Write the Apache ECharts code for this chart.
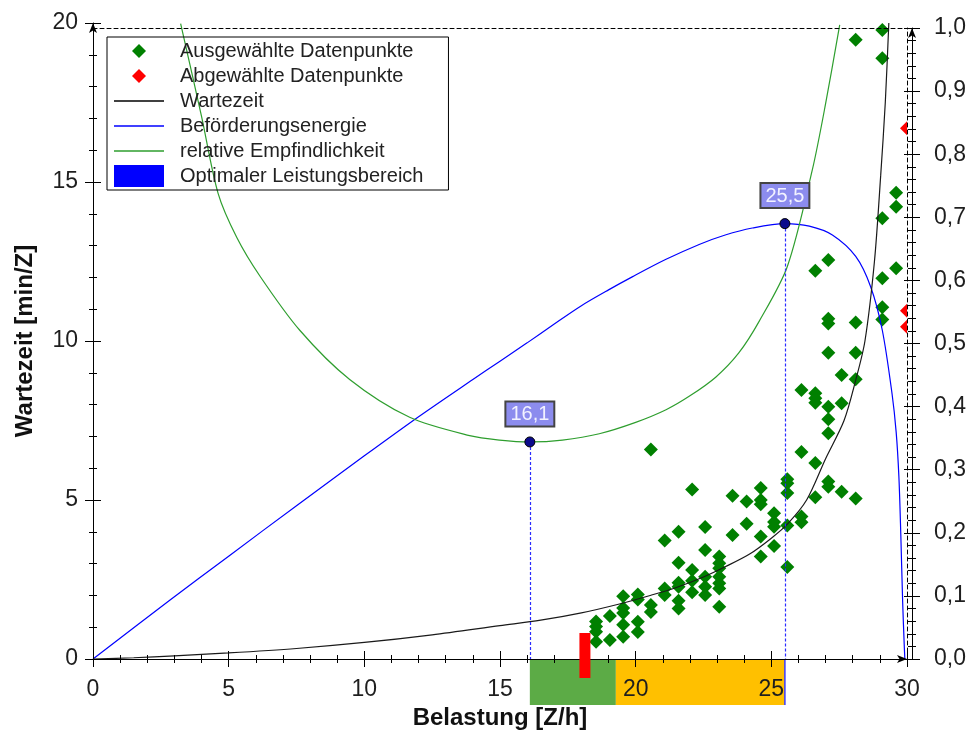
<!DOCTYPE html>
<html><head><meta charset="utf-8">
<script src="https://cdn.jsdelivr.net/npm/echarts@6/dist/echarts.min.js"></script>
<style>html,body{margin:0;padding:0;background:#fff}#c{width:970px;height:736px}</style>
</head><body><div id="c"></div>
<script>
const FONT = 'Liberation Sans, Arial, sans-serif';

// ---------- data ----------
// Ausgewählte Datenpunkte [Belastung, Wartezeit]
const selectedPoints = [
 [18.54,1.18],[18.54,1.02],[18.54,0.86],[18.54,0.54],
 [19.05,1.35],[19.05,0.60],
 [19.54,1.97],[19.54,1.60],[19.54,1.45],[19.54,1.08],[19.54,0.70],
 [20.08,2.03],[20.08,1.87],[20.08,1.17],[20.08,0.85],
 [20.56,1.70],[20.56,1.48],[20.56,6.59],
 [21.07,3.73],[21.07,2.22],[21.07,2.01],
 [21.58,4.00],[21.58,3.03],[21.58,2.40],[21.58,2.27],[21.58,1.83],[21.58,1.59],
 [22.08,5.33],[22.08,2.80],[22.08,2.46],[22.08,2.10],
 [22.56,4.15],[22.56,3.43],[22.56,2.59],[22.56,2.27],[22.56,2.01],
 [23.08,3.22],[23.08,3.01],[23.08,2.85],[23.08,2.59],[23.08,2.38],[23.08,2.22],[23.08,1.64],
 [23.57,5.13],[23.57,3.90],
 [24.09,4.95],[24.09,4.25],
 [24.61,5.38],[24.61,5.00],[24.61,4.87],[24.61,3.85],[24.61,3.22],
 [25.10,4.58],[25.10,4.31],[25.10,4.16],[25.10,3.55],
 [25.59,5.65],[25.59,5.53],[25.59,5.22],[25.59,4.20],[25.59,2.89],
 [26.11,8.46],[26.11,6.51],[26.11,4.48],[26.11,4.30],
 [26.62,12.21],[26.62,8.36],[26.62,8.20],[26.62,8.06],[26.62,6.16],[26.62,5.09],
 [27.10,12.55],[27.10,10.70],[27.10,10.55],[27.10,9.63],[27.10,7.93],[27.10,7.54],[27.10,7.10],[27.10,5.58],[27.10,5.42],
 [27.59,8.93],[27.59,8.04],[27.59,5.26],
 [28.11,19.47],[28.11,10.58],[28.11,9.63],[28.11,8.80],[28.11,5.05],
 [29.09,19.78],[29.09,18.89],[29.09,13.86],[29.09,11.97],[29.09,11.06],[29.09,10.68],
 [29.60,14.66],[29.60,14.22],[29.60,12.29]
];
// Abgewählte Datenpunkte
const deselectedX = [30, 30, 30];
const deselectedY = [16.69, 10.95, 10.45];

// Wartezeit (linke Achse)
const waitX = [0,1.5,3,5,7.5,10,12.5,15,16.5,18,19.4,20.5,21.5,22.5,23.3,24.2,25,25.6,26.3,27.0,27.68,28.11,28.45,28.8,29.03,29.2,29.33];
const waitY = [0,0.04,0.1,0.19,0.33,0.52,0.76,1.05,1.22,1.45,1.73,1.99,2.25,2.58,2.9,3.3,3.8,4.25,5.0,6.3,7.5,8.77,10.0,12.5,15.2,17.5,20.0];

// Beförderungsenergie (rechte Achse)
const energyX = [0,2.84,5,7.5,10,12,14,15,16,17,18,19,19.89,21.1,22.34,23.3,24.3,25.5,26.4,27.25,28.11,28.66,29.09,29.45,29.6,29.7,29.77,29.84,29.9,29.92];
const energyY = [0,0.0935,0.163,0.243,0.322,0.384,0.443,0.472,0.501,0.531,0.560,0.585,0.606,0.633,0.657,0.672,0.683,0.690,0.686,0.672,0.638,0.590,0.521,0.42,0.36,0.29,0.20,0.09,0.02,0];

// relative Empfindlichkeit (rechte Achse)
const sensX = [3.23,4.0,4.61,5.3,6.15,7.62,9.46,11.67,13.88,14.98,16.1,17.3,18.66,20.0,21.12,22.0,22.96,23.8,24.55,25.59,26.51,27.0,27.52];
const sensY = [1.007,0.86,0.738,0.668,0.607,0.521,0.443,0.383,0.354,0.347,0.344,0.347,0.357,0.375,0.395,0.417,0.447,0.485,0.535,0.622,0.775,0.88,1.005];

// Optima
const optimaX = [16.1, 25.5];
const optimaY = [0.344, 0.690];

// Leistungsbereiche unter der Achse
const zoneStart = [16.1, 19.27];
const zoneEnd = [19.27, 25.5];
// aktueller Betriebspunkt
const currentLoad = [18.13];

// Achsen
const xMin = 0, xMax = 30, xStep = 5;
const yMin = 0, yMax = 20, yStep = 5;
const rMin = 0, rMax = 1, rStep = 0.1;

// ---------- styles ----------
const ZONE_FILL = ['#5cab46', '#ffc000'];
const ZONE_EDGE = [null, '#3a3aff'];
const ZONE_H = 46;
const LABEL_COLOR = '#1e1e1e';
const TICK_FS = 23;

const DIAMOND_ICON = 'path://M0,0M22,22M4,11L11,4L18,11L11,18Z';
const LINE_ICON = 'path://M0,0M50,22M0,10.25H50V11.75H0Z';
const HALF_DIAMOND = 'path://M0,7L7,0L7,14Z';

const chart = echarts.init(document.getElementById('c'), null, {renderer: 'canvas'});

function tickAxis(base, inside) {
  return Object.assign({}, base, {
    axisLine: {show: false, onZero: false},
    axisLabel: {show: false},
    splitLine: {show: false},
    axisTick: {show: true, inside: inside, length: 8, lineStyle: {color: '#000', width: 1}},
    minorTick: {show: true, splitNumber: 5, length: 4, lineStyle: {color: '#000', width: 1}},
    name: ''
  });
}

const xBase = {type: 'value', min: xMin, max: xMax, interval: xStep, gridIndex: 0, position: 'bottom', z: 5};
const yBase = {type: 'value', min: yMin, max: yMax, interval: yStep, gridIndex: 0, position: 'left', z: 5};
const rBase = {type: 'value', min: rMin, max: rMax, interval: rStep, gridIndex: 1, position: 'right', offset: 5, z: 5};

const option = {
  animation: false,
  backgroundColor: '#fff',
  textStyle: {fontFamily: FONT},
  grid: [
    {left: 93, right: 63, top: 23, bottom: 77},
    {left: 93, right: 63, top: 28, bottom: 77}
  ],
  legend: {
    orient: 'vertical', left: 107, top: 37,
    padding: [3, 25, 3, 7],
    itemWidth: 50, itemHeight: 22, itemGap: 3,
    backgroundColor: 'transparent', borderColor: '#000', borderWidth: 1, borderRadius: 0,
    align: 'left',
    selectedMode: false,
    textStyle: {fontSize: 20, color: '#222', fontFamily: FONT, padding: [0, 0, 0, 11]},
    data: [
      {name: 'Ausgewählte Datenpunkte', icon: DIAMOND_ICON, itemStyle: {color: '#008000', borderWidth: 0, opacity: 1}},
      {name: 'Abgewählte Datenpunkte', icon: DIAMOND_ICON, itemStyle: {color: '#ff0000', borderWidth: 0, opacity: 1}},
      {name: 'Wartezeit', icon: LINE_ICON, itemStyle: {color: '#000', borderWidth: 0}},
      {name: 'Beförderungsenergie', icon: LINE_ICON, itemStyle: {color: '#0000ff', borderWidth: 0}},
      {name: 'relative Empfindlichkeit', icon: LINE_ICON, itemStyle: {color: '#2e9e2e', borderWidth: 0}},
      {name: 'Optimaler Leistungsbereich', icon: 'rect', itemStyle: {color: '#0000ff', borderWidth: 0}}
    ]
  },
  xAxis: [
    Object.assign({}, xBase, {
      axisLine: {show: true, onZero: false, lineStyle: {color: '#000', width: 1}, symbol: ['none', 'arrow'], symbolSize: [6, 10]},
      axisTick: {show: true, inside: false, length: 8, lineStyle: {color: '#000'}},
      minorTick: {show: true, splitNumber: 5, length: 4, lineStyle: {color: '#000'}},
      axisLabel: {margin: 19, fontSize: TICK_FS, color: LABEL_COLOR, fontFamily: FONT},
      splitLine: {show: false},
      name: 'Belastung [Z/h]', nameLocation: 'middle', nameGap: 46,
      nameTextStyle: {fontSize: 24, fontWeight: 'bold', color: '#111', fontFamily: FONT}
    }),
    tickAxis(xBase, true),
    {type: 'value', min: xMin, max: xMax, gridIndex: 1, position: 'top', z: 4,
     axisLine: {show: true, onZero: false, lineStyle: {color: '#000', width: 1, type: [4, 3]}},
     axisTick: {show: false}, axisLabel: {show: false}, splitLine: {show: false}}
  ],
  yAxis: [
    Object.assign({}, yBase, {
      axisLine: {show: true, onZero: false, lineStyle: {color: '#000', width: 1}, symbol: ['none', 'arrow'], symbolSize: [6, 10]},
      axisTick: {show: true, inside: false, length: 8, lineStyle: {color: '#000'}},
      minorTick: {show: true, splitNumber: 5, length: 4, lineStyle: {color: '#000'}},
      axisLabel: {margin: 15, fontSize: TICK_FS, color: LABEL_COLOR, fontFamily: FONT},
      splitLine: {show: false},
      name: 'Wartezeit [min/Z]', nameLocation: 'middle', nameGap: 56,
      nameTextStyle: {fontSize: 24, fontWeight: 'bold', color: '#111', fontFamily: FONT}
    }),
    tickAxis(yBase, true),
    {type: 'value', min: rMin, max: rMax, interval: rStep, gridIndex: 1, position: 'right', offset: 0, z: 4,
     axisLine: {show: true, onZero: false, lineStyle: {color: '#000', width: 1, type: [4, 3]}},
     axisTick: {show: false}, axisLabel: {show: false}, splitLine: {show: false}},
    Object.assign({}, rBase, {
      axisLine: {show: true, onZero: false, lineStyle: {color: '#000', width: 1}, symbol: ['none', 'arrow'], symbolSize: [6, 10]},
      axisTick: {show: true, inside: false, length: 8, lineStyle: {color: '#000'}},
      minorTick: {show: true, splitNumber: 5, length: 4, lineStyle: {color: '#000'}},
      axisLabel: {margin: 22, fontSize: TICK_FS, color: LABEL_COLOR, fontFamily: FONT,
        formatter: v => v.toFixed(1).replace('.', ',')},
      splitLine: {show: false}
    }),
    tickAxis(rBase, true)
  ],
  series: [
    {
      type: 'custom', name: 'Optimaler Leistungsbereich', xAxisIndex: 0, yAxisIndex: 0,
      z: 1, clip: false, silent: true, itemStyle: {color: '#0000ff'},
      data: zoneStart.map((s, i) => [s, zoneEnd[i]]),
      renderItem: (params, api) => {
        const i = params.dataIndex;
        const a = api.coord([api.value(0), 0]);
        const b = api.coord([api.value(1), 0]);
        const children = [{type: 'rect', shape: {x: a[0], y: a[1], width: b[0] - a[0], height: ZONE_H},
          style: {fill: ZONE_FILL[i]}}];
        if (ZONE_EDGE[i]) children.push({type: 'line', shape: {x1: b[0], y1: a[1], x2: b[0], y2: a[1] + ZONE_H},
          style: {stroke: ZONE_EDGE[i], lineWidth: 1.5}});
        return {type: 'group', children: children};
      }
    },
    {
      type: 'line', name: 'Beförderungsenergie', xAxisIndex: 2, yAxisIndex: 3,
      data: energyX.map((x, i) => [x, energyY[i]]),
      smooth: 0.3, symbol: 'none', clip: false,
      lineStyle: {color: '#0000ff', width: 1.2}, itemStyle: {color: '#0000ff'},
      markLine: {silent: true, symbol: ['none', 'none'], label: {show: false},
        lineStyle: {color: '#2b2bff', width: 1.2, type: [3, 2], opacity: 1},
        data: [[{coord: [optimaX[1], optimaY[1]]}, {coord: [optimaX[1], 0]}]]}
    },
    {
      type: 'line', name: 'relative Empfindlichkeit', xAxisIndex: 2, yAxisIndex: 3,
      data: sensX.map((x, i) => [x, sensY[i]]),
      smooth: 0.3, symbol: 'none', clip: false,
      lineStyle: {color: '#2e9e2e', width: 1.2}, itemStyle: {color: '#2e9e2e'},
      markLine: {silent: true, symbol: ['none', 'none'], label: {show: false},
        lineStyle: {color: '#2b2bff', width: 1.2, type: [3, 2], opacity: 1},
        data: [[{coord: [optimaX[0], optimaY[0]]}, {coord: [optimaX[0], 0]}]]}
    },
    {
      type: 'line', name: 'Wartezeit', xAxisIndex: 0, yAxisIndex: 0,
      data: waitX.map((x, i) => [x, waitY[i]]),
      smooth: 0.3, symbol: 'none',
      lineStyle: {color: '#1a1a1a', width: 1.2}, itemStyle: {color: '#000'}
    },
    {
      type: 'scatter', name: 'Ausgewählte Datenpunkte', xAxisIndex: 0, yAxisIndex: 0,
      data: selectedPoints, symbol: 'diamond', symbolSize: 14,
      itemStyle: {color: '#008000', opacity: 1}
    },
    {
      type: 'scatter', name: 'Abgewählte Datenpunkte', xAxisIndex: 0, yAxisIndex: 0,
      data: deselectedX.map((x, i) => [x, deselectedY[i]]),
      symbol: HALF_DIAMOND, symbolSize: [7, 14], symbolOffset: [-3.5, 0], clip: false,
      itemStyle: {color: '#ff0000', opacity: 1}
    },
    {
      type: 'scatter', name: 'Optimum', xAxisIndex: 2, yAxisIndex: 3, z: 6,
      data: optimaX.map((x, i) => [x, optimaY[i]]),
      symbol: 'circle', symbolSize: 10,
      itemStyle: {color: '#0b0b8c', borderColor: '#000', borderWidth: 1, opacity: 1},
      label: {show: true, position: 'top', distance: 11,
        formatter: p => String(p.value[0]).replace('.', ','),
        fontSize: 20, lineHeight: 20, color: '#f2f2ff', fontFamily: FONT,
        backgroundColor: '#8c8cee', borderColor: '#444', borderWidth: 2,
        padding: [2, 4, 1, 4]}
    },
    {
      type: 'custom', name: 'Betriebspunkt', xAxisIndex: 0, yAxisIndex: 0, z: 10, clip: false, silent: true,
      data: currentLoad.map(x => [x, 0]),
      renderItem: (params, api) => {
        const c = api.coord([api.value(0), 0]);
        return {type: 'rect', shape: {x: c[0] - 5.5, y: c[1] - 26, width: 11, height: 45}, style: {fill: '#ff0000'}};
      }
    }
  ]
};
chart.setOption(option);
</script></body></html>
